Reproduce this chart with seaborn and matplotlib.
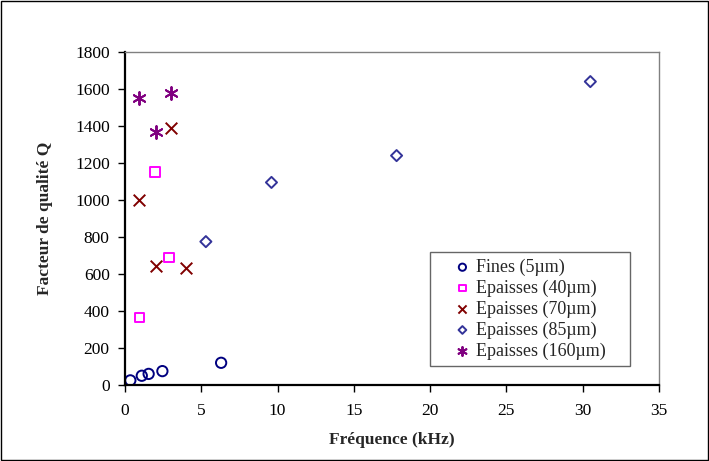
"""Facteur de qualité Q en fonction de la fréquence."""

import pandas as pd
import matplotlib.pyplot as plt
import seaborn as sns
from matplotlib.patches import Rectangle

# Données
fines_f = [0.35, 1.1, 1.55, 2.45, 6.3]
fines_q = [25, 50, 60, 75, 120]

ep40_f = [0.95, 1.95, 2.9]
ep40_q = [365, 1150, 690]

ep70_f = [0.95, 2.0, 3.0, 4.0]
ep70_q = [1000, 645, 1390, 630]

ep85_f = [5.3, 9.6, 17.8, 30.5]
ep85_q = [775, 1095, 1240, 1640]

ep160_f = [0.95, 2.0, 3.0]
ep160_q = [1550, 1365, 1580]

series = ["Fines (5µm)", "Epaisses (40µm)", "Epaisses (70µm)",
          "Epaisses (85µm)", "Epaisses (160µm)"]

frames = []
for nom, f, q in zip(series,
                     [fines_f, ep40_f, ep70_f, ep85_f, ep160_f],
                     [fines_q, ep40_q, ep70_q, ep85_q, ep160_q]):
    frames.append(pd.DataFrame({"freq": f, "Q": q, "serie": nom}))
df = pd.concat(frames, ignore_index=True)

# Style de chaque série : (marqueur, couleur, taille, ouvert ?)
styles = {
    "Fines (5µm)": ("o", "#000080", 55, True),
    "Epaisses (40µm)": ("s", "#FF00FF", 48, True),
    "Epaisses (70µm)": ("x", "#800000", 70, False),
    "Epaisses (85µm)": ("D", "#333399", 32, True),
    "Epaisses (160µm)": ((6, 2, 0), "#800080", 85, False),
}

sns.set_style("white")
plt.rcParams["font.family"] = ["Liberation Serif", "DejaVu Serif"]

fig = plt.figure(figsize=(7.09, 4.61), dpi=100)
ax = fig.add_axes([125 / 709, 1 - 385 / 461, 534 / 709, 333 / 461])

for nom in series:
    marqueur, couleur, taille, ouvert = styles[nom]
    sub = df[df["serie"] == nom]
    if ouvert:
        sns.scatterplot(data=sub, x="freq", y="Q", marker=marqueur, s=taille,
                        facecolor="none", edgecolor=couleur, linewidth=1.4,
                        label=nom, ax=ax)
    else:
        sns.scatterplot(data=sub, x="freq", y="Q", marker=marqueur, s=taille,
                        color=couleur, linewidth=1.4, label=nom, ax=ax)

ax.set_xlim(0, 35)
ax.set_ylim(0, 1800)
ax.set_xticks(range(0, 36, 5))
ax.set_yticks(range(0, 1801, 200))
ax.tick_params(axis="both", direction="out", length=5, width=1,
               labelsize=12.5, colors="black", pad=6)
ax.tick_params(axis="x", pad=8)
ax.tick_params(bottom=True, left=True)

for cote in ["left", "bottom"]:
    ax.spines[cote].set_color("black")
    ax.spines[cote].set_linewidth(1.6)
for cote in ["top", "right"]:
    ax.spines[cote].set_color("#808080")
    ax.spines[cote].set_linewidth(1)

ax.set_xlabel("Fréquence (kHz)", fontsize=12.5, fontweight="bold", labelpad=9)
ax.set_ylabel("Facteur de qualité Q", fontsize=12.5, fontweight="bold", labelpad=16)

# Légende façon Excel : boîte large, texte aligné à gauche
leg = ax.legend(loc="lower left", bbox_to_anchor=(0.571, 0.057, 0.375, 0.34),
                mode="expand", fontsize=13, frameon=True, fancybox=False,
                edgecolor="#404040", borderpad=0.35, labelspacing=0.2,
                handlelength=2.9, handletextpad=-0.7, markerscale=0.7,
                borderaxespad=0)
leg.get_frame().set_linewidth(1)

# Cadre extérieur du graphique
fig.patches.append(Rectangle((0.0015, 0.002), 0.997, 0.996, transform=fig.transFigure,
                             fill=False, edgecolor="black", linewidth=1))

fig.savefig("out.png", dpi=100)
